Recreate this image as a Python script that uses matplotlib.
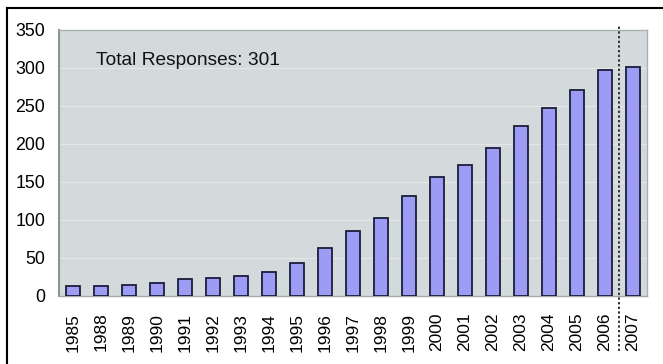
import matplotlib
matplotlib.use("Agg")
import matplotlib.pyplot as plt
from matplotlib.lines import Line2D

years = ["1985", "1988", "1989", "1990", "1991", "1992", "1993", "1994",
         "1995", "1996", "1997", "1998", "1999", "2000", "2001", "2002",
         "2003", "2004", "2005", "2006", "2007"]
responses = [13, 13, 15, 17, 22, 24, 26, 31, 43, 63, 85, 103, 132, 156,
             172, 195, 224, 248, 271, 297, 301]
y_ticks = [0, 50, 100, 150, 200, 250, 300, 350]
total_label = "Total Responses: 301"

plt.rcParams['font.family'] = ['Liberation Sans', 'DejaVu Sans']

fig = plt.figure(figsize=(6.63, 3.64), dpi=100)
ax = fig.add_axes([59 / 663, 1 - 296 / 364, 588 / 663, 266 / 364])

x = list(range(len(years)))
ax.bar(x, responses, width=0.48, color="#9C9CF4", edgecolor="#1C1C3C",
       linewidth=1.3, zorder=3)

ax.set_facecolor("#D3DADB")
ax.set_xlim(-0.5, len(years) - 0.5)
ax.set_ylim(0, 350)
ax.set_yticks(y_ticks)
ax.set_xticks(x)
ax.set_xticklabels(years, rotation=90, fontsize=12.5)
ax.tick_params(axis="y", length=0, labelsize=12.8, pad=10)
ax.tick_params(axis="x", length=0, pad=12)
ax.yaxis.grid(True, color="#E3E7E7", linewidth=0.9, zorder=0)
ax.set_axisbelow(True)

for side in ["top", "right"]:
    ax.spines[side].set_color("#A9B0B0")
    ax.spines[side].set_linewidth(1.0)
ax.spines["left"].set_color("#8C9494")
ax.spines["left"].set_linewidth(1.5)
ax.spines["bottom"].set_color("#A0A8A8")
ax.spines["bottom"].set_linewidth(1.0)

ax.text(0.063, 0.885, total_label, transform=ax.transAxes, fontsize=13.8,
        ha="left", va="center", color="#111111")

# dotted separator between the completed years and the current one
sep_x = len(years) - 1.5
ax.axvline(sep_x, ymin=-0.205, ymax=1.015, color="#333333", linewidth=1.4,
           linestyle=(0, (1.2, 1.2)), clip_on=False, zorder=4)

# frame lines on the left and top of the figure
fig.add_artist(Line2D([7 / 663, 7 / 663], [0, 1 - 8 / 364],
                      transform=fig.transFigure, color="black", linewidth=1.5))
fig.add_artist(Line2D([7 / 663, 1], [1 - 8 / 364, 1 - 8 / 364],
                      transform=fig.transFigure, color="black", linewidth=1.5))

fig.savefig("out.png", dpi=100, facecolor="white")
